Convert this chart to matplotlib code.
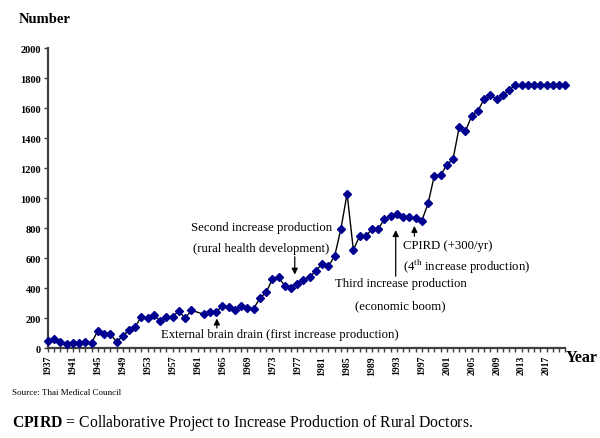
import matplotlib
matplotlib.use("Agg")
import matplotlib.pyplot as plt
from matplotlib.ticker import MultipleLocator

plt.rcParams["font.family"] = ["Liberation Serif", "DejaVu Serif"]
plt.rcParams["mathtext.fontset"] = "custom"
plt.rcParams["mathtext.rm"] = "Liberation Serif"
plt.rcParams["mathtext.bf"] = "Liberation Serif:bold"

# Graduates per year (1961 not reported)
years = list(range(1937, 1961)) + list(range(1962, 2021))
doctors = [
    50, 62, 38, 27, 35, 33, 42, 35, 116, 93,
    92, 43, 77, 122, 142, 210, 197, 218, 182, 208,
    207, 248, 197, 252,
    225, 237, 240, 281, 272, 253, 278, 264, 263, 332,
    371, 458, 471, 415, 402, 430, 455, 475, 515, 562,
    545, 613, 793, 1030, 655, 745, 745, 793, 795, 860,
    880, 893, 871, 875, 865, 850, 965, 1150, 1152, 1222,
    1260, 1475, 1447, 1549, 1584, 1660, 1685, 1662, 1687, 1722,
    1752, 1752, 1752, 1752, 1752, 1752, 1752, 1752, 1752,
]
label_years = list(range(1937, 2018, 4))
y_ticks = list(range(0, 2001, 200))

fig = plt.figure(figsize=(6.0, 4.39), dpi=100)
ax = fig.add_axes([0.08, 0.205, 0.862, 0.683])

ax.plot(years, doctors, color="black", lw=1.0, marker="D", markersize=4.5,
        markerfacecolor="#000090", markeredgecolor="#000090", clip_on=False, zorder=3)

ax.set_xlim(1937, 2020)
ax.set_ylim(0, 2000)
ax.set_xticks(label_years)
ax.set_xticklabels([str(y) for y in label_years], rotation=90,
                   fontsize=7, fontweight="bold")
ax.xaxis.set_minor_locator(MultipleLocator(1))
ax.set_yticks(y_ticks)
ax.set_yticklabels([str(v) for v in y_ticks], fontsize=7.5, fontweight="bold")
ax.tick_params(axis="x", which="both", direction="out", length=3, width=1,
               color="#404040", pad=2)
ax.tick_params(axis="y", direction="out", length=3, width=1, color="#404040", pad=2)

for side in ("top", "right"):
    ax.spines[side].set_visible(False)
for side in ("left", "bottom"):
    ax.spines[side].set_color("#404040")
    ax.spines[side].set_linewidth(1.6)

# annotations
tsz = 9.2
arrow = dict(arrowstyle="-|>", color="black", lw=0.9, mutation_scale=9)

ax.text(1971.2, 809, "Second increase production", ha="center", va="center", fontsize=tsz)
ax.text(1971.2, 665, "(rural health development)", ha="center", va="center", fontsize=tsz)
ax.annotate("", xy=(1976.6, 471), xytext=(1976.6, 627), arrowprops=arrow)

ax.text(1974.2, 93, "External brain drain (first increase production)",
        ha="center", va="center", fontsize=tsz)
ax.annotate("", xy=(1964.1, 215), xytext=(1964.1, 115), arrowprops=arrow)

ax.text(1993.6, 431, "Third increase production", ha="center", va="center", fontsize=tsz)
ax.text(1993.6, 287, "(economic boom)", ha="center", va="center", fontsize=tsz)
ax.annotate("", xy=(1992.8, 805), xytext=(1992.8, 460), arrowprops=arrow)

ax.text(1994.0, 689, "CPIRD (+300/yr)", ha="left", va="center", fontsize=tsz)
ax.text(1994.0, 545, r"(4$^{\mathrm{th}}$ increase production)", ha="left",
        va="center", fontsize=tsz)
ax.annotate("", xy=(1995.8, 833), xytext=(1995.8, 727), arrowprops=arrow)

fig.text(0.032, 0.955, "Number", fontsize=10.5, fontweight="bold", va="center")
fig.text(0.943, 0.185, "Year", fontsize=11.5, fontweight="bold", va="center")
fig.text(0.02, 0.105, "Source: Thai Medical Council", fontsize=6.5, va="center")
fig.text(0.02, 0.036, r"$\mathbf{CPIRD}$ = Collaborative Project to Increase Production of Rural Doctors.",
         fontsize=11.3, va="center")

fig.savefig("out.png", dpi=100)
